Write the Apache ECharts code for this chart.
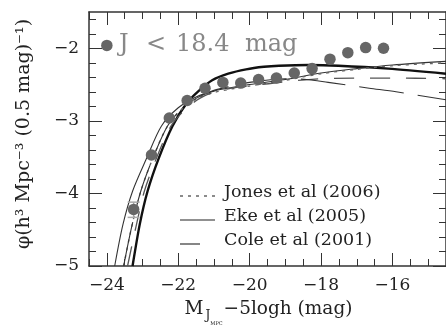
<!DOCTYPE html>
<html>
<head>
<meta charset="utf-8">
<script src="https://cdn.jsdelivr.net/npm/echarts@6/dist/echarts.min.js"></script>
<style>html,body{margin:0;padding:0;background:#fff}#c{width:446px;height:331px}</style>
</head>
<body>
<div id="c"></div>
<script>
// ---- data ----
var pointMag = [-23.25,-22.75,-22.25,-21.75,-21.25,-20.75,-20.25,-19.75,-19.25,-18.75,-18.25,-17.75,-17.25,-16.75,-16.25];
var pointPhi = [-4.22,-3.47,-2.96,-2.72,-2.55,-2.47,-2.48,-2.43,-2.41,-2.34,-2.28,-2.15,-2.06,-1.99,-2.00];
var errMag = [-23.25];
var errLow = [-4.33];
var errHigh = [-4.12];
var labelMarker = [[-24.0, -1.96]];

var fitMag = [-23.28,-23.08,-22.86,-22.55,-22.16,-21.77,-21.41,-21.05,-20.60,-20.10,-19.60,-19.18,-18.35,-17.51,-16.12,-14.50];
var fitPhi = [-5.00,-4.43,-3.97,-3.52,-3.07,-2.76,-2.58,-2.44,-2.35,-2.29,-2.255,-2.24,-2.23,-2.24,-2.28,-2.35];

var ekeMag = [-23.78,-23.55,-23.28,-22.89,-22.47,-22.00,-21.50,-21.00,-20.50,-20.00,-19.00,-18.00,-17.00,-16.00,-14.50];
var ekePhi = [-5.00,-4.43,-3.97,-3.52,-3.07,-2.82,-2.67,-2.59,-2.54,-2.50,-2.43,-2.34,-2.28,-2.23,-2.18];

var jonesMag = [-23.53,-23.30,-23.05,-22.70,-22.30,-21.90,-21.50,-21.00,-20.50,-20.00,-19.00,-18.00,-17.00,-16.00,-14.50];
var jonesPhi = [-5.00,-4.45,-3.97,-3.50,-3.07,-2.84,-2.70,-2.61,-2.56,-2.52,-2.44,-2.35,-2.29,-2.24,-2.20];

var coleMag = [-23.42,-23.18,-22.95,-22.60,-22.20,-21.80,-21.40,-21.00,-20.50,-20.00,-19.00,-18.00,-17.00,-16.00,-14.50];
var colePhi = [-5.00,-4.45,-3.97,-3.50,-3.07,-2.84,-2.69,-2.60,-2.55,-2.52,-2.46,-2.42,-2.41,-2.41,-2.42];

var cole2Mag = [-23.53,-23.30,-23.05,-22.70,-22.30,-21.90,-21.50,-21.00,-20.50,-20.00,-19.00,-18.40,-17.80,-16.65,-15.90,-14.50];
var cole2Phi = [-5.00,-4.45,-3.97,-3.50,-3.07,-2.83,-2.69,-2.58,-2.52,-2.47,-2.42,-2.43,-2.47,-2.55,-2.60,-2.71];

var xMajorTicks = [-24,-22,-20,-18,-16];
var xMinorTicks = [-24.5,-23.5,-23,-22.5,-21.5,-21,-20.5,-19.5,-19,-18.5,-17.5,-17,-16.5,-15.5,-15,-14.5];
var yMajorTicks = [-5,-4,-3,-2];
var yMinorTicks = [-4.8,-4.6,-4.4,-4.2,-3.8,-3.6,-3.4,-3.2,-2.8,-2.6,-2.4,-2.2,-1.8,-1.6];

var legendNames = ['Jones et al (2006)','Eke et al (2005)','Cole et al (2001)'];
var sampleLabelParts = ['J','<','18.4','mag'];

// ---- chart ----
function zip(a,b){return a.map(function(v,i){return [v,b[i]];});}
function minus(v){return v<0?'\u2212'+Math.abs(v):String(v);}
var FONT = 'DejaVu Serif';
var AX = '#333';

function xAx(pos, major, labels){
  return {
    type:'value', position:pos, min:-24.5, max:-14.5,
    axisLine:{show:major, onZero:false, lineStyle:{color:AX,width:1.5}},
    axisTick:{show:true, inside:true, length: major?13:7, customValues: major?xMajorTicks:xMinorTicks, lineStyle:{color:AX,width:1}},
    axisLabel:{show:labels, customValues:xMajorTicks, formatter:minus, margin:11, fontFamily:FONT, fontSize:17, color:'#222'},
    splitLine:{show:false}
  };
}
function yAx(pos, major, labels){
  return {
    type:'value', position:pos, min:-5, max:-1.5,
    axisLine:{show:major, onZero:false, lineStyle:{color:AX,width:1.5}},
    axisTick:{show:true, inside:true, length: major?13:7, customValues: major?yMajorTicks:yMinorTicks, lineStyle:{color:AX,width:1}},
    axisLabel:{show:labels, customValues:yMajorTicks, formatter:minus, margin:10, fontFamily:FONT, fontSize:17, color:'#222'},
    splitLine:{show:false}
  };
}

var xs = [xAx('bottom',true,true), xAx('bottom',false,false), xAx('top',true,false), xAx('top',false,false)];
xs[0].name = '{m|M}{j|J}{s|MPC}{m|\u22125logh (mag)}';
xs[0].nameLocation = 'middle';
xs[0].nameGap = 34;
xs[0].nameTextStyle = {
  fontFamily:FONT, color:'#222', padding:[0,0,0,2],
  rich:{
    m:{fontFamily:FONT,fontSize:18.5,color:'#222',lineHeight:28,verticalAlign:'top'},
    j:{fontFamily:FONT,fontSize:12,color:'#222',lineHeight:28,verticalAlign:'top',padding:[10,0,0,2]},
    s:{fontFamily:FONT,fontSize:5,color:'#222',lineHeight:28,verticalAlign:'top',padding:[21,1,0,0]}
  }
};
var ys = [yAx('left',true,true), yAx('left',false,false), yAx('right',true,false), yAx('right',false,false)];
ys[0].name = '\u03C6(h\u00B3 Mpc\u207B\u00B3 (0.5 mag)\u207B\u00B9)';
ys[0].nameLocation = 'middle';
ys[0].nameRotate = 90;
ys[0].nameGap = 55;
ys[0].nameTextStyle = {fontFamily:FONT, fontSize:19, color:'#222', padding:[0,0,0,10]};

// legend samples (drawn as graphic elements)
var legendStyles = [
  {stroke:'#666', lineWidth:1.4, lineDash:[3,5], x2:215},
  {stroke:'#222', lineWidth:1.1, lineDash:null, x2:215},
  {stroke:'#444', lineWidth:1.3, lineDash:null, x2:200}
];
var legendGraphics = [];
legendNames.forEach(function(n,i){
  var y = 196 + i*24;
  var s = legendStyles[i];
  legendGraphics.push({type:'line', shape:{x1:180,y1:y,x2:s.x2,y2:y},
    style:{stroke:s.stroke, lineWidth:s.lineWidth, lineDash:s.lineDash}, z:10});
  legendGraphics.push({type:'text', x:224, y:y-4,
    style:{text:n, fontFamily:FONT, fontSize:17.5, fill:'#222', verticalAlign:'middle', align:'left'}, z:10});
});
var labelX = [119, 146, 176, 245];
sampleLabelParts.forEach(function(t,i){
  legendGraphics.push({type:'text', x:labelX[i], y:45,
    style:{text:t, fontFamily:FONT, fontSize:24, fill:'#888', verticalAlign:'middle', align:'left'}, z:10});
});

var chart = echarts.init(document.getElementById('c'), null, {renderer:'canvas'});
chart.setOption({
  animation:false,
  backgroundColor:'#fff',
  grid:{left:89, top:12, right:-4, bottom:62, containLabel:false},
  xAxis: xs,
  yAxis: ys,
  graphic: legendGraphics,
  series:[
    {name:'fit', type:'line', data:zip(fitMag,fitPhi), smooth:0.25, symbol:'none', clip:true,
     lineStyle:{color:'#111', width:2.4}, z:3},
    {name:'Eke et al (2005)', type:'line', data:zip(ekeMag,ekePhi), smooth:0.3, symbol:'none', clip:true,
     lineStyle:{color:'#333', width:1.1}, z:3},
    {name:'Jones et al (2006)', type:'line', data:zip(jonesMag,jonesPhi), smooth:0.3, symbol:'none', clip:true,
     lineStyle:{color:'#666', width:1.4, type:[3,5]}, z:3},
    {name:'Cole et al (2001)', type:'line', data:zip(coleMag,colePhi), smooth:0.3, symbol:'none', clip:true,
     lineStyle:{color:'#555', width:1.3, type:[20,16]}, z:3},
    {name:'cole2', type:'line', data:zip(cole2Mag,cole2Phi), smooth:0.3, symbol:'none', clip:true,
     lineStyle:{color:'#333', width:1.1, type:[45,14]}, z:3},
    {name:'err', type:'custom', z:4,
     data: errMag.map(function(m,i){return [m, errLow[i], errHigh[i]];}),
     renderItem:function(params, api){
       var lo = api.coord([api.value(0), api.value(1)]);
       var hi = api.coord([api.value(0), api.value(2)]);
       var w = 6;
       var st = {stroke:'#aaa', lineWidth:1.5};
       return {type:'group', children:[
         {type:'line', shape:{x1:lo[0],y1:lo[1],x2:hi[0],y2:hi[1]}, style:st},
         {type:'line', shape:{x1:lo[0]-w,y1:lo[1],x2:lo[0]+w,y2:lo[1]}, style:st},
         {type:'line', shape:{x1:hi[0]-w,y1:hi[1],x2:hi[0]+w,y2:hi[1]}, style:st}
       ]};
     }},
    {name:'data', type:'scatter', data:zip(pointMag,pointPhi), symbol:'circle', symbolSize:11.5,
     itemStyle:{color:'#666', opacity:1}, z:5},
    {name:'marker', type:'scatter', data:labelMarker, symbol:'circle', symbolSize:11.5,
     itemStyle:{color:'#666', opacity:1}, z:5}
  ]
});
</script>
</body>
</html>
